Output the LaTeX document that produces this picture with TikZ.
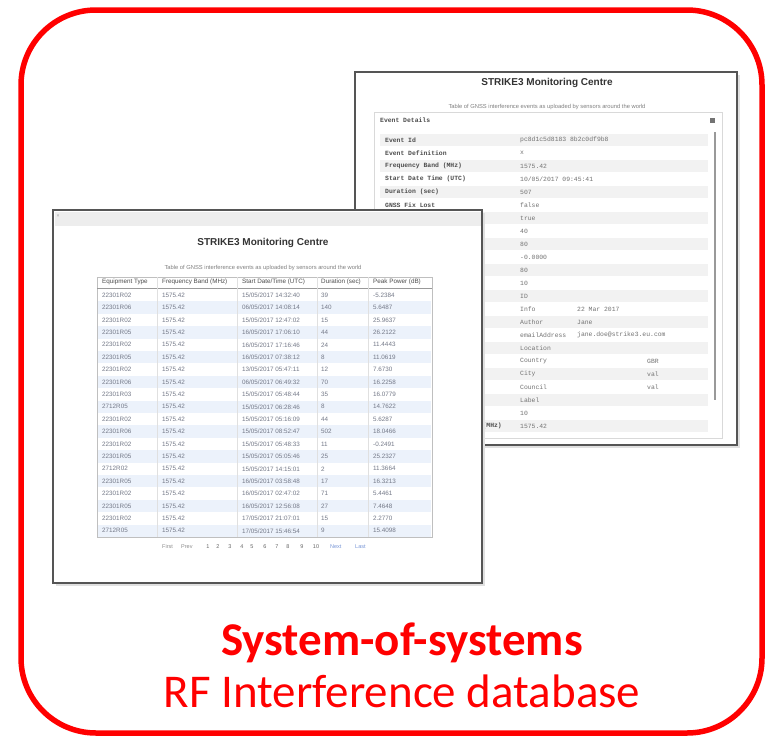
\documentclass[tikz,border=0pt]{standalone}
\usepackage{fontspec}
\setmainfont{Carlito}
\newfontfamily\scr{Liberation Sans}
\newfontfamily\mno{Liberation Mono}
\definecolor{sred}{RGB}{255,0,0}
\definecolor{rowblue}{RGB}{236,242,251}
\definecolor{rowgray}{RGB}{242,242,242}
\definecolor{winedge}{RGB}{85,85,85}
\definecolor{celltxt}{RGB}{115,120,135}
\definecolor{linkblue}{RGB}{120,150,215}

\newcommand\frontrow[6]{%
  \pgfmathsetmacro\fry{295.2+12.4*#1}%
  \ifodd#1 \fill[rowblue] (98,\fry-6.2) rectangle (431,\fry+6.2);\fi
  \node[ftxt] (f#1a) at (102,\fry) {#2};
  \node[ftxt] (f#1b) at (162,\fry) {#3};
  \node[ftxt] (f#1c) at (242,\fry) {#4};
  \node[ftxt] (f#1d) at (321,\fry) {#5};
  \node[ftxt] (f#1e) at (373,\fry) {#6};
}
\newcommand\backrow[3]{%
  \pgfmathsetmacro\bry{140+13*#1}%
  \ifodd#1 \else\fill[rowgray] (380,\bry-6.3) rectangle (708,\bry+6.3);\fi
  \node[blab] (b#1l) at (385,\bry) {#2};
  \node[btxt] (b#1v) at (520,\bry) {#3};
}
\newcommand\backsub[3]{%
  \pgfmathsetmacro\bsy{140+13*#1}%
  \node[btxt] (s#1) at (#2,\bsy) {#3};
}

\begin{document}
\begin{tikzpicture}[x=1pt,y=-1pt,
  ftxt/.style={font=\scr\fontsize{6.3}{7}\selectfont,text=celltxt,anchor=west,inner sep=0pt},
  fhead/.style={font=\scr\fontsize{6.3}{7}\selectfont,text=black!70,anchor=west,inner sep=0pt},
  btxt/.style={font=\mno\fontsize{6.4}{7}\selectfont,text=black!55,anchor=west,inner sep=0pt},
  blab/.style={font=\mno\bfseries\fontsize{6.4}{7}\selectfont,text=black!70,anchor=west,inner sep=0pt},
  wtitle/.style={font=\scr\bfseries\fontsize{10}{12}\selectfont,text=black!80,inner sep=0pt},
  wsub/.style={font=\scr\fontsize{5.8}{6.5}\selectfont,text=black!50,inner sep=0pt},
  pg/.style={font=\scr\fontsize{5.5}{6}\selectfont,text=black!45,inner sep=0pt},
  window/.style={draw=winedge,line width=2.4pt,fill=white},
  caption/.style={text=sred,inner sep=0pt,anchor=base}]

\useasboundingbox (0,0) rectangle (765,736);
\fill[white] (0,0) rectangle (765,736);

% red frame
\draw[sred,line width=5.5pt,rounded corners=75pt] (21,10) rectangle (762,733);

% ---------------- back window ----------------
\fill[black!12] (358,75) rectangle (740,448);
\draw[window] (355,72) rectangle (737,445);
\node[wtitle] (btitle) at (547,83) {STRIKE3 Monitoring Centre};
\node[wsub] (bsub) at (547,107) {Table of GNSS interference events as uploaded by sensors around the world};
\node[blab] (bhead) at (380,120) {Event Details};
\node[fill=black!55,minimum size=5pt,inner sep=0pt] (bclose) at (712,120) {};
\draw[black!15] (374,112) rectangle (722,438);
\draw[black!40,line width=2.5pt] (715,132) -- (715,400);

\backrow{0}{Event Id}{pc8d1c5d8183 8b2c0df9b8}
\backrow{1}{Event Definition}{x}
\backrow{2}{Frequency Band (MHz)}{1575.42}
\backrow{3}{Start Date Time (UTC)}{10/05/2017 09:45:41}
\backrow{4}{Duration (sec)}{507}
\backrow{5}{GNSS Fix Lost}{false}
\backrow{6}{}{true}
\backrow{7}{}{40}
\backrow{8}{}{80}
\backrow{9}{}{-0.0000}
\backrow{10}{}{80}
\backrow{11}{}{10}
\backrow{12}{}{ID}
\backrow{13}{}{Info}
\backrow{14}{}{Author}
\backrow{15}{}{emailAddress}
\backrow{16}{}{Location}
\backrow{17}{}{Country}
\backrow{18}{}{City}
\backrow{19}{}{Council}
\backrow{20}{}{Label}
\backrow{21}{}{10}
\backrow{22}{}{1575.42}
\node[blab,anchor=east] (b22x) at (502,426) {Frequency Band (MHz)};
\backsub{13}{577}{22 Mar 2017}
\backsub{14}{577}{Jane}
\backsub{15}{577}{jane.doe@strike3.eu.com}
\backsub{17}{647}{GBR}
\backsub{18}{647}{val}
\backsub{19}{647}{val}

% ---------------- front window ----------------
\fill[black!12] (56,213) rectangle (485,586);
\draw[window] (53,210) rectangle (482,583);
\fill[black!7] (54.5,211.5) rectangle (480.5,226);
\node[font=\scr\fontsize{5}{6}\selectfont,text=black!40,inner sep=0pt] (fclose) at (58,216) {×};
\node[wtitle] (ftitle) at (263,243) {STRIKE3 Monitoring Centre};
\node[wsub] (fsub) at (263,268) {Table of GNSS interference events as uploaded by sensors around the world};

% table header
\node[fhead] (h1) at (102,282) {Equipment Type};
\node[fhead] (h2) at (162,282) {Frequency Band (MHz)};
\node[fhead] (h3) at (242,282) {Start Date/Time (UTC)};
\node[fhead] (h4) at (321,282) {Duration (sec)};
\node[fhead] (h5) at (373,282) {Peak Power (dB)};

\frontrow{0}{22301R02}{1575.42}{15/05/2017 14:32:40}{39}{-5.2384}
\frontrow{1}{22301R06}{1575.42}{06/05/2017 14:08:14}{140}{5.6487}
\frontrow{2}{22301R02}{1575.42}{15/05/2017 12:47:02}{15}{25.9637}
\frontrow{3}{22301R05}{1575.42}{16/05/2017 17:06:10}{44}{26.2122}
\frontrow{4}{22301R02}{1575.42}{16/05/2017 17:16:46}{24}{11.4443}
\frontrow{5}{22301R05}{1575.42}{16/05/2017 07:38:12}{8}{11.0619}
\frontrow{6}{22301R02}{1575.42}{13/05/2017 05:47:11}{12}{7.6730}
\frontrow{7}{22301R06}{1575.42}{06/05/2017 06:49:32}{70}{16.2258}
\frontrow{8}{22301R03}{1575.42}{15/05/2017 05:48:44}{35}{16.0779}
\frontrow{9}{2712R05}{1575.42}{15/05/2017 06:28:46}{8}{14.7622}
\frontrow{10}{22301R02}{1575.42}{15/05/2017 05:16:09}{44}{5.6287}
\frontrow{11}{22301R06}{1575.42}{15/05/2017 08:52:47}{502}{18.0466}
\frontrow{12}{22301R02}{1575.42}{15/05/2017 05:48:33}{11}{-0.2491}
\frontrow{13}{22301R05}{1575.42}{15/05/2017 05:05:46}{25}{25.2327}
\frontrow{14}{2712R02}{1575.42}{15/05/2017 14:15:01}{2}{11.3664}
\frontrow{15}{22301R05}{1575.42}{16/05/2017 03:58:48}{17}{16.3213}
\frontrow{16}{22301R02}{1575.42}{16/05/2017 02:47:02}{71}{5.4461}
\frontrow{17}{22301R05}{1575.42}{16/05/2017 12:56:08}{27}{7.4648}
\frontrow{18}{22301R02}{1575.42}{17/05/2017 21:07:01}{15}{2.2770}
\frontrow{19}{2712R05}{1575.42}{17/05/2017 15:46:54}{9}{15.4098}

% table lines
\draw[black!25] (97,277) rectangle (432,537);
\draw[black!40] (97,288.5) -- (432,288.5);
\foreach \cx in {157,237,317,368}
  \draw[black!12] (\cx,277) -- (\cx,537);

% pagination
\node[pg,anchor=west] (pfirst) at (162,547) {First};
\node[pg,anchor=west] (pprev) at (181,547) {Prev};
\foreach \n/\px in {1/208,2/218,3/230,4/242,5/252,6/265,7/277,8/288,9/302,10/316}
  \node[pg,text=black!60] (pn\n) at (\px,547) {\n};
\node[pg,anchor=west,text=linkblue] (pnext) at (330,547) {Next};
\node[pg,anchor=west,text=linkblue] (plast) at (355,547) {Last};

% caption
\node[caption,font=\bfseries\fontsize{47}{56}\selectfont] (cap1) at (402,655) {System-of-systems};
\node[caption,font=\fontsize{47}{56}\selectfont] (cap2) at (402,707) {RF Interference database};
\end{tikzpicture}
\end{document}
